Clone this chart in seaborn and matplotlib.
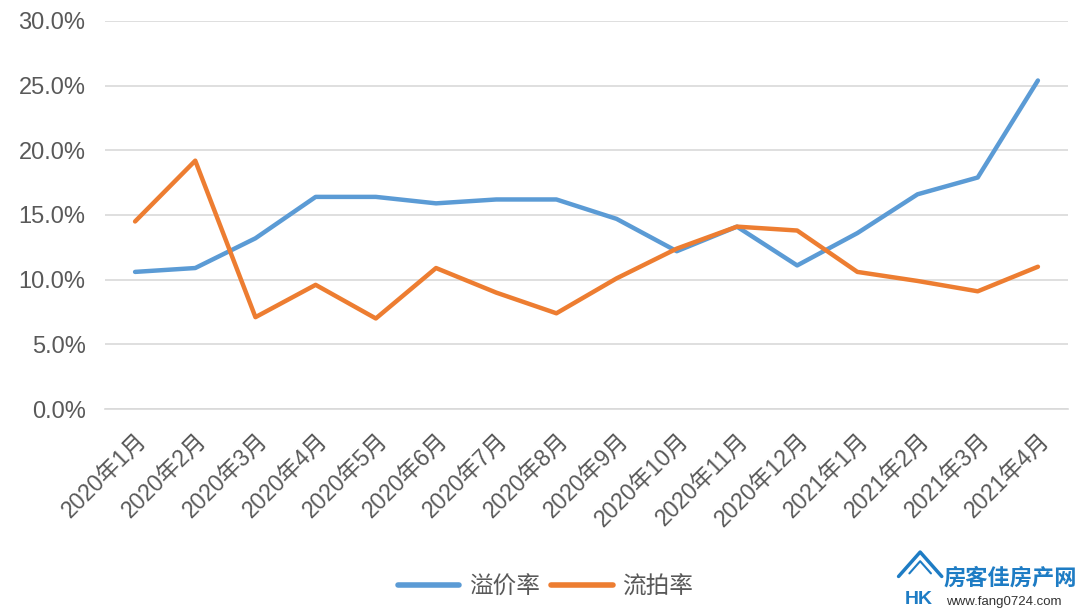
import matplotlib
matplotlib.use('Agg')
import matplotlib.pyplot as plt
import seaborn as sns
import pandas as pd
import numpy as np

months = ['2020年1月', '2020年2月', '2020年3月', '2020年4月', '2020年5月', '2020年6月',
          '2020年7月', '2020年8月', '2020年9月', '2020年10月', '2020年11月', '2020年12月',
          '2021年1月', '2021年2月', '2021年3月', '2021年4月']
premium = [10.6, 10.9, 13.2, 16.4, 16.4, 15.9, 16.2, 16.2, 14.7, 12.2, 14.1, 11.1,
           13.6, 16.6, 17.9, 25.4]
failed = [14.5, 19.2, 7.1, 9.6, 7.0, 10.9, 9.0, 7.4, 10.1, 12.4, 14.1, 13.8,
          10.6, 9.9, 9.1, 11.0]
series_names = ['溢价率', '流拍率']
colors = ['#5B9BD5', '#ED7D31']

df = pd.DataFrame({
    'x': list(range(len(months))) * 2,
    'value': premium + failed,
    'series': [series_names[0]] * len(months) + [series_names[1]] * len(months),
})

sns.set_style('white')
plt.rcParams['font.family'] = ['Liberation Sans', 'Noto Sans CJK SC']

fig = plt.figure(figsize=(10.8, 6.1), dpi=100)
ax = fig.add_axes([0.0972, 0.3295, 0.8917, 0.6361])

sns.lineplot(data=df, x='x', y='value', hue='series', palette=colors,
             linewidth=3.2, ax=ax, legend=False)

ax.set_xlim(-0.5, len(months) - 0.5)
ax.set_ylim(0, 30)
ax.set_yticks(np.arange(0, 31, 5))
ax.set_yticklabels([f'{v:.1f}%' for v in np.arange(0, 31, 5)], fontsize=17, color='#595959')
ax.yaxis.grid(True, color='#D9D9D9', linewidth=1.2)
ax.set_xticks(range(len(months)))
ax.set_xticklabels(months, rotation=45, ha='right', rotation_mode='anchor',
                   fontsize=16.5, color='#595959')
ax.set_xticks(np.arange(-0.5, len(months), 1), minor=True)
ax.tick_params(axis='x', which='major', length=0, pad=14)
ax.tick_params(axis='x', which='minor', length=9, width=1.2, color='#D9D9D9')
ax.tick_params(axis='y', length=0, pad=14)
ax.set_xlabel('')
ax.set_ylabel('')
for s in ['top', 'right', 'left']:
    ax.spines[s].set_visible(False)
ax.spines['bottom'].set_color('#D9D9D9')
ax.spines['bottom'].set_linewidth(1.2)

handles = [plt.Line2D([], [], color=c, linewidth=4, solid_capstyle='round') for c in colors]
fig.legend(handles, series_names, loc='center', bbox_to_anchor=(0.505, 0.037), ncol=2,
           frameon=False, fontsize=17, handlelength=2.6, columnspacing=0.5,
           handletextpad=0.4, labelcolor='#595959')

# watermark
fig.text(0.874, 0.042, '房客佳房产网', fontsize=16, fontweight='bold', color='#1E7CC4')
fig.text(0.876, 0.008, 'www.fang0724.com', fontsize=9.5, color='#333333')
fig.text(0.838, 0.01, 'HK', fontsize=14, color='#1E7CC4', fontweight='bold')
roof_x = [0.832, 0.852, 0.872]
roof_y = [0.055, 0.095, 0.055]
fig.add_artist(plt.Line2D(roof_x, roof_y, color='#1E7CC4', linewidth=2.5))
fig.add_artist(plt.Line2D([0.842, 0.852, 0.862], [0.06, 0.08, 0.06], color='#1E7CC4', linewidth=1.5))

fig.savefig('out.png', dpi=100)
